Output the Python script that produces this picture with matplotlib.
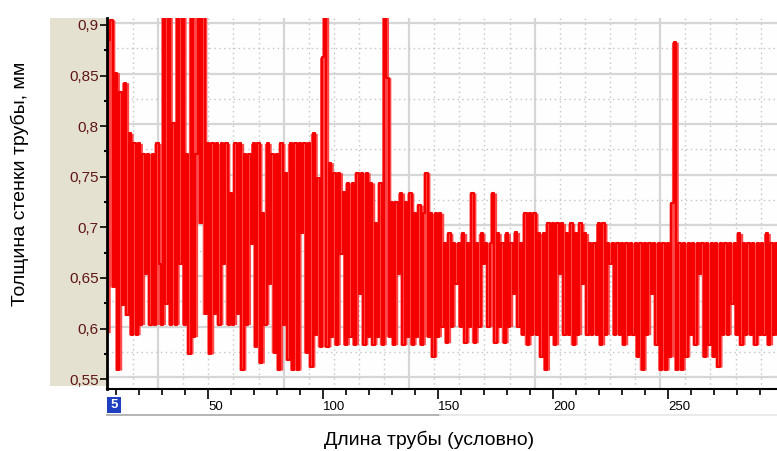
import numpy as np
import matplotlib
matplotlib.use('Agg')
import matplotlib.pyplot as plt
from matplotlib.patches import Rectangle
from matplotlib.lines import Line2D

plt.rcParams['font.family'] = ['Liberation Sans', 'DejaVu Sans']

# ---------------- data ----------------
x_start = 6  # first sample position (pipe length, conventional units), 1 unit per sample
thickness = [
    0.596, 0.885, 0.905, 0.641, 0.853, 0.559, 0.834, 0.623, 0.843, 0.613,
    0.793, 0.594, 0.783, 0.594, 0.783, 0.604, 0.773, 0.654, 0.773, 0.604,
    0.773, 0.604, 0.783, 0.664, 0.604, 0.950, 0.624, 0.950, 0.604, 0.803,
    0.604, 0.950, 0.664, 0.950, 0.604, 0.773, 0.575, 0.950, 0.592, 0.773,
    0.950, 0.704, 0.950, 0.614, 0.783, 0.575, 0.783, 0.614, 0.783, 0.604,
    0.783, 0.664, 0.783, 0.604, 0.734, 0.604, 0.783, 0.614, 0.783, 0.559,
    0.773, 0.604, 0.773, 0.684, 0.783, 0.582, 0.783, 0.566, 0.714, 0.604,
    0.783, 0.644, 0.773, 0.576, 0.773, 0.559, 0.783, 0.604, 0.754, 0.569,
    0.783, 0.559, 0.783, 0.559, 0.783, 0.694, 0.783, 0.576, 0.783, 0.562,
    0.793, 0.594, 0.749, 0.582, 0.868, 0.950, 0.582, 0.764, 0.592, 0.754,
    0.584, 0.754, 0.674, 0.735, 0.584, 0.744, 0.592, 0.744, 0.584, 0.754,
    0.634, 0.754, 0.584, 0.754, 0.592, 0.744, 0.584, 0.704, 0.592, 0.744,
    0.584, 0.950, 0.848, 0.592, 0.725, 0.584, 0.725, 0.654, 0.734, 0.584,
    0.725, 0.592, 0.734, 0.584, 0.714, 0.592, 0.722, 0.584, 0.714, 0.754,
    0.592, 0.714, 0.572, 0.714, 0.592, 0.714, 0.602, 0.685, 0.586, 0.694,
    0.602, 0.685, 0.644, 0.685, 0.602, 0.694, 0.586, 0.685, 0.602, 0.734,
    0.586, 0.685, 0.602, 0.694, 0.664, 0.685, 0.602, 0.685, 0.734, 0.586,
    0.694, 0.602, 0.685, 0.586, 0.694, 0.602, 0.685, 0.634, 0.695, 0.602,
    0.685, 0.594, 0.714, 0.584, 0.714, 0.594, 0.714, 0.594, 0.694, 0.572,
    0.694, 0.559, 0.704, 0.594, 0.704, 0.584, 0.704, 0.654, 0.704, 0.594,
    0.694, 0.594, 0.704, 0.584, 0.694, 0.594, 0.704, 0.644, 0.694, 0.594,
    0.685, 0.594, 0.685, 0.594, 0.704, 0.584, 0.704, 0.594, 0.685, 0.664,
    0.685, 0.594, 0.685, 0.594, 0.685, 0.584, 0.685, 0.594, 0.685, 0.594,
    0.685, 0.572, 0.685, 0.559, 0.685, 0.594, 0.685, 0.634, 0.685, 0.584,
    0.685, 0.559, 0.685, 0.559, 0.685, 0.572, 0.724, 0.883, 0.559, 0.685,
    0.559, 0.685, 0.572, 0.685, 0.594, 0.685, 0.584, 0.685, 0.654, 0.685,
    0.572, 0.685, 0.584, 0.685, 0.572, 0.685, 0.562, 0.685, 0.594, 0.685,
    0.594, 0.685, 0.624, 0.685, 0.594, 0.694, 0.584, 0.685, 0.594, 0.685,
    0.594, 0.685, 0.584, 0.685, 0.594, 0.685, 0.594, 0.694, 0.584, 0.685,
    0.594, 0.685, 0.594,
]
y_ticks = [0.55, 0.60, 0.65, 0.70, 0.75, 0.80, 0.85, 0.90]
y_tick_labels = ['0,55', '0,6', '0,65', '0,7', '0,75', '0,8', '0,85', '0,9']
x_ticks = [50, 100, 150, 200, 250]
x_tick_labels = ['50', '100', '150', '200', '250']
y_label = 'Толщина стенки трубы, мм'
x_label = 'Длина трубы (условно)'
scroll_label = '5'

# ---------------- figure ----------------
W, H = 777, 451
fig = plt.figure(figsize=(W / 100, H / 100), dpi=100)
fig.patch.set_facecolor('white')

def fx(px):
    return px / W

def fy(py):
    return 1 - py / H

# beige y-axis panel
fig.patches.append(Rectangle((fx(50), fy(386)), fx(107) - fx(50), fy(18) - fy(386),
                             transform=fig.transFigure, facecolor='#E4E1D0',
                             edgecolor='none', zorder=-10))

L, R, T, B = 107, 777, 18, 389
ax = fig.add_axes([fx(L), fy(B), fx(R) - fx(L), fy(T) - fy(B)])
ax.set_facecolor('#FEFEFE')

xlim = (6.1, 297.4)
ylim = (0.5403, 0.9069)
ax.set_xlim(*xlim)
ax.set_ylim(*ylim)

def px2x(px):
    return xlim[0] + (px - L) / (R - L) * (xlim[1] - xlim[0])

# vertical grid (fixed pixel grid of the original widget)
for px in np.arange(108, 780, 25.1):
    xv = px2x(px)
    r = (px - 158) % 125.5
    if r < 1 or r > 124.5:
        ax.axvline(xv, color='#D6D6D6', lw=1.6, zorder=1)
    else:
        ax.axvline(xv, color='#C4C4C4', lw=1.0, ls=(0, (1, 2.5)), zorder=1)
# horizontal grid
for yv in y_ticks:
    ax.axhline(yv + 0.002, color='#D6D6D6', lw=1.6, zorder=1)
    ax.axhline(yv + 0.027, color='#C4C4C4', lw=1.0, ls=(0, (1, 2.5)), zorder=1)

x = x_start + np.arange(len(thickness))
y = np.asarray(thickness)
# soft band (the blurred trace of the dense signal) from neighbouring samples
y_prev = np.concatenate([y[:1], y[:-1]])
y_next = np.concatenate([y[1:], y[-1:]])
band_lo = np.minimum(np.minimum(y_prev, y), y_next)
band_hi = np.maximum(np.maximum(y_prev, y), y_next)
ax.fill_between(x, band_lo, band_hi, step='mid', color='#FF4848', lw=0, zorder=2)
ax.plot(x, y, drawstyle='steps-mid', color='#F50000', lw=1.5, zorder=3)

# spines
for s in ['top', 'right']:
    ax.spines[s].set_visible(False)
ax.spines['left'].set_color('black')
ax.spines['left'].set_linewidth(2)
ax.spines['left'].set_zorder(5)
ax.spines['bottom'].set_color('black')
ax.spines['bottom'].set_linewidth(1.5)

ax.set_yticks(y_ticks)
ax.set_yticklabels(y_tick_labels)
ax.set_yticks([v + 0.025 for v in y_ticks[:-1]], minor=True)
ax.tick_params(axis='y', which='major', length=5, width=1.2, color='black', pad=1,
               labelsize=11, labelcolor='#5E1616', direction='out')
ax.tick_params(axis='y', which='minor', length=2, width=1.5, color='black')

ax.set_xticks(x_ticks)
ax.set_xticklabels(x_tick_labels)
ax.set_xticks([v for v in range(10, 300, 10) if v % 50], minor=True)
ax.tick_params(axis='x', which='major', length=7, width=1.2, color='black', pad=2,
               labelsize=9.5, labelcolor='black', direction='out')
ax.tick_params(axis='x', which='minor', length=4, width=1.2, color='black')
for lbl in ax.get_xticklabels():
    lbl.set_horizontalalignment('left')

# scrollbar-like strip under the axis
fig.patches.append(Rectangle((fx(107), fy(413)), fx(121) - fx(107), fy(397) - fy(413),
                             transform=fig.transFigure, facecolor='#1E3FBF',
                             edgecolor='none', zorder=2))
fig.text(fx(114), fy(405), scroll_label, color='white', fontsize=9.5,
         ha='center', va='center', fontweight='bold')
fig.lines.append(Line2D([fx(107), fx(440)], [fy(414.5), fy(414.5)],
                        transform=fig.transFigure, color='#A8A8A8', lw=1.2))
fig.lines.append(Line2D([fx(440), fx(777)], [fy(414.5), fy(414.5)],
                        transform=fig.transFigure, color='#E6E6E6', lw=1.2))

# axis titles
fig.text(fx(20), fy(184), y_label, rotation=90, ha='center', va='center',
         fontsize=14, color='black')
fig.text(fx(429), fy(440), x_label, ha='center', va='center',
         fontsize=14, color='black')

fig.savefig('out.png', dpi=100)
